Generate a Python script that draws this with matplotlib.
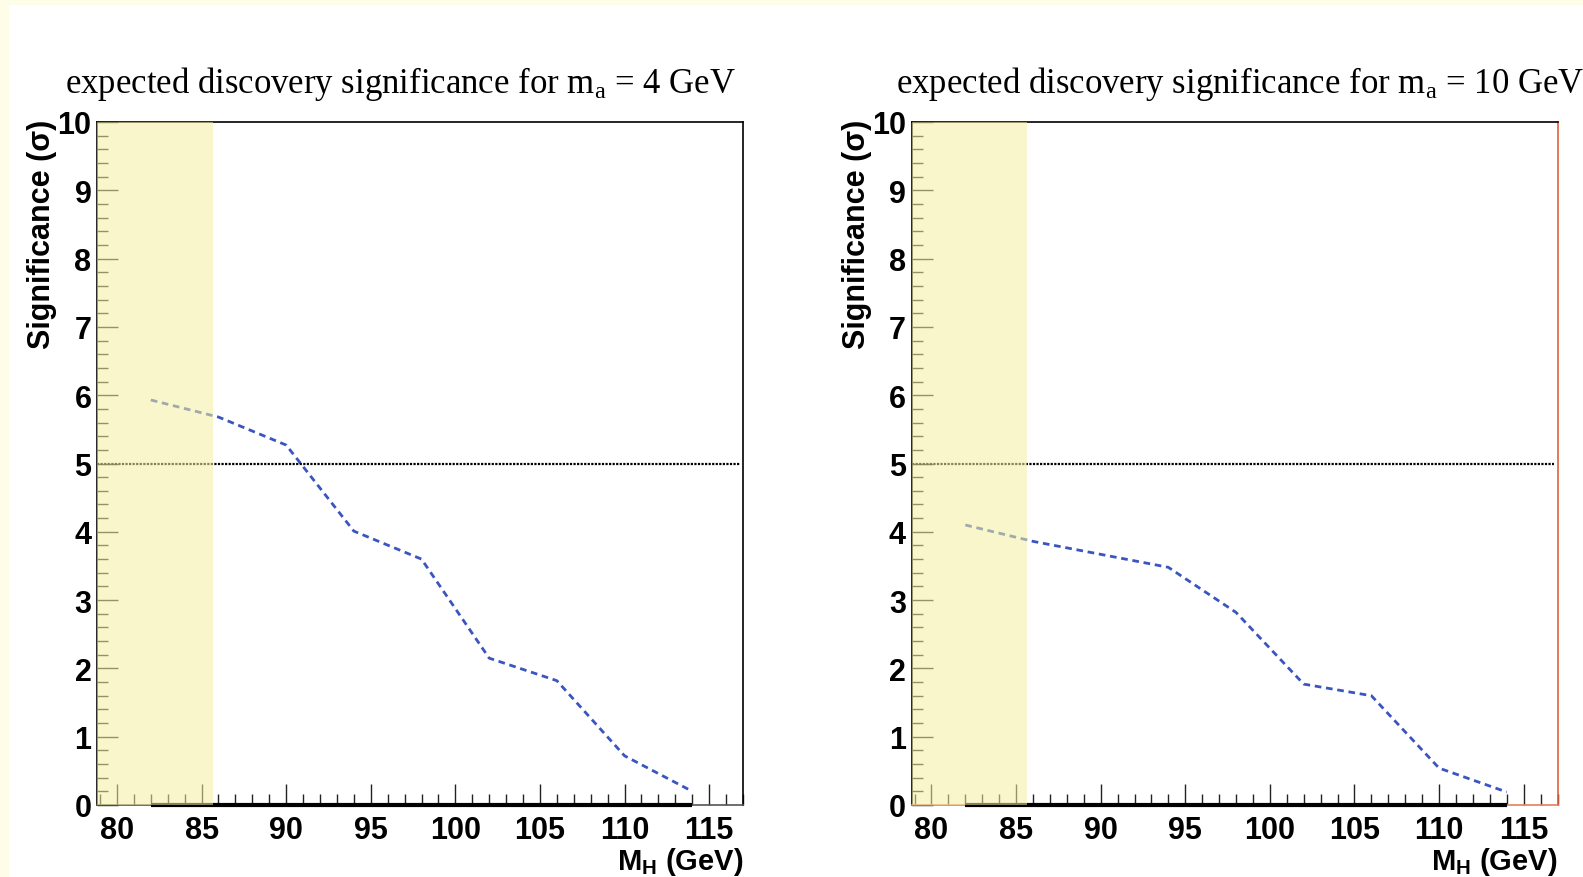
import numpy as np
import matplotlib
matplotlib.use("Agg")
import matplotlib.pyplot as plt
from matplotlib.patches import Rectangle
from matplotlib.ticker import MultipleLocator

plt.rcParams['mathtext.fontset'] = 'custom'
plt.rcParams['mathtext.rm'] = 'Liberation Serif'
plt.rcParams['mathtext.bf'] = 'Liberation Sans:bold'

# ===== data =====
mass_h = [82, 86, 90, 94, 98, 102, 106, 110, 114]  # GeV
signif_ma4 = [5.93, 5.68, 5.27, 4.01, 3.60, 2.15, 1.82, 0.72, 0.20]
signif_ma10 = [4.10, 3.86, 3.67, 3.48, 2.82, 1.77, 1.60, 0.54, 0.19]
ma_values = [4, 10]
excluded_max = 85.65   # LEP-excluded region upper edge
discovery_level = 5.0

W, H = 1583, 878
fig = plt.figure(figsize=(W / 100, H / 100), dpi=100, facecolor='#fdfde8')
fig.patches.append(Rectangle((9 / W, 0), 1 - 9 / W, 1 - 6 / H, transform=fig.transFigure,
                             facecolor='white', edgecolor='none', zorder=-10))

xlim = (78.82, 117.0)
ax_w, ax_h = 646 / W, 683 / H
ax_b = (H - 806) / H
lefts = [97 / W, 911.5 / W]
title_x = [65, 895.5]
ylab_x = [42, 857]

for i, (ma, sig) in enumerate(zip(ma_values, [signif_ma4, signif_ma10])):
    ax = fig.add_axes([lefts[i], ax_b, ax_w, ax_h])
    ax.set_xlim(*xlim)
    ax.set_ylim(0, 10)

    ax.plot(mass_h, sig, color='#3a55c0', lw=2.0, ls=(0, (2.4, 1.7)), zorder=3)
    ax.hlines(discovery_level, xlim[0], 116.8, color='black', lw=1.6, ls=(0, (1, 0.6)), zorder=3)
    ax.hlines(0, mass_h[0], mass_h[-1], color='black', lw=3.0, zorder=4, clip_on=False)
    ax.axvspan(xlim[0], excluded_max, color='#f4efa0', alpha=0.55, lw=0, zorder=5)

    ax.xaxis.set_major_locator(MultipleLocator(5))
    ax.xaxis.set_minor_locator(MultipleLocator(1))
    ax.yaxis.set_major_locator(MultipleLocator(1))
    ax.yaxis.set_minor_locator(MultipleLocator(0.2))
    ax.tick_params(which='both', direction='in', width=1.0, color='#222222')
    ax.tick_params(which='major', length=15)
    ax.tick_params(which='minor', length=8)
    ax.tick_params(axis='y', pad=4)
    ax.tick_params(axis='x', pad=7)
    for lab in ax.get_xticklabels() + ax.get_yticklabels():
        lab.set_fontfamily('Liberation Sans')
        lab.set_fontweight('bold')
        lab.set_fontsize(22)

    for s in ax.spines.values():
        s.set_linewidth(1.2)
        s.set_color('black')
    if i == 1:
        ax.spines['right'].set_color('#e0603c')
        ax.spines['bottom'].set_color('#e08060')
    else:
        ax.spines['bottom'].set_color('#555555')

    ax.set_xlabel(r'$\mathbf{M_H}$ (GeV)', fontsize=21, fontweight='bold',
                  fontfamily='Liberation Sans', loc='right', labelpad=0)

    fig.text(ylab_x[i] / W, 1 - 120 / H, 'Significance (σ)', rotation=90,
             ha='center', va='top', fontsize=22, fontweight='bold',
             fontfamily='Liberation Sans')
    fig.text(title_x[i] / W, 1 - 93 / H,
             r'expected discovery significance for $\mathrm{m_a}$ = %d GeV' % ma,
             ha='left', va='baseline', fontsize=25, fontfamily='Liberation Serif')

fig.savefig("out.png", dpi=100, facecolor=fig.get_facecolor())
